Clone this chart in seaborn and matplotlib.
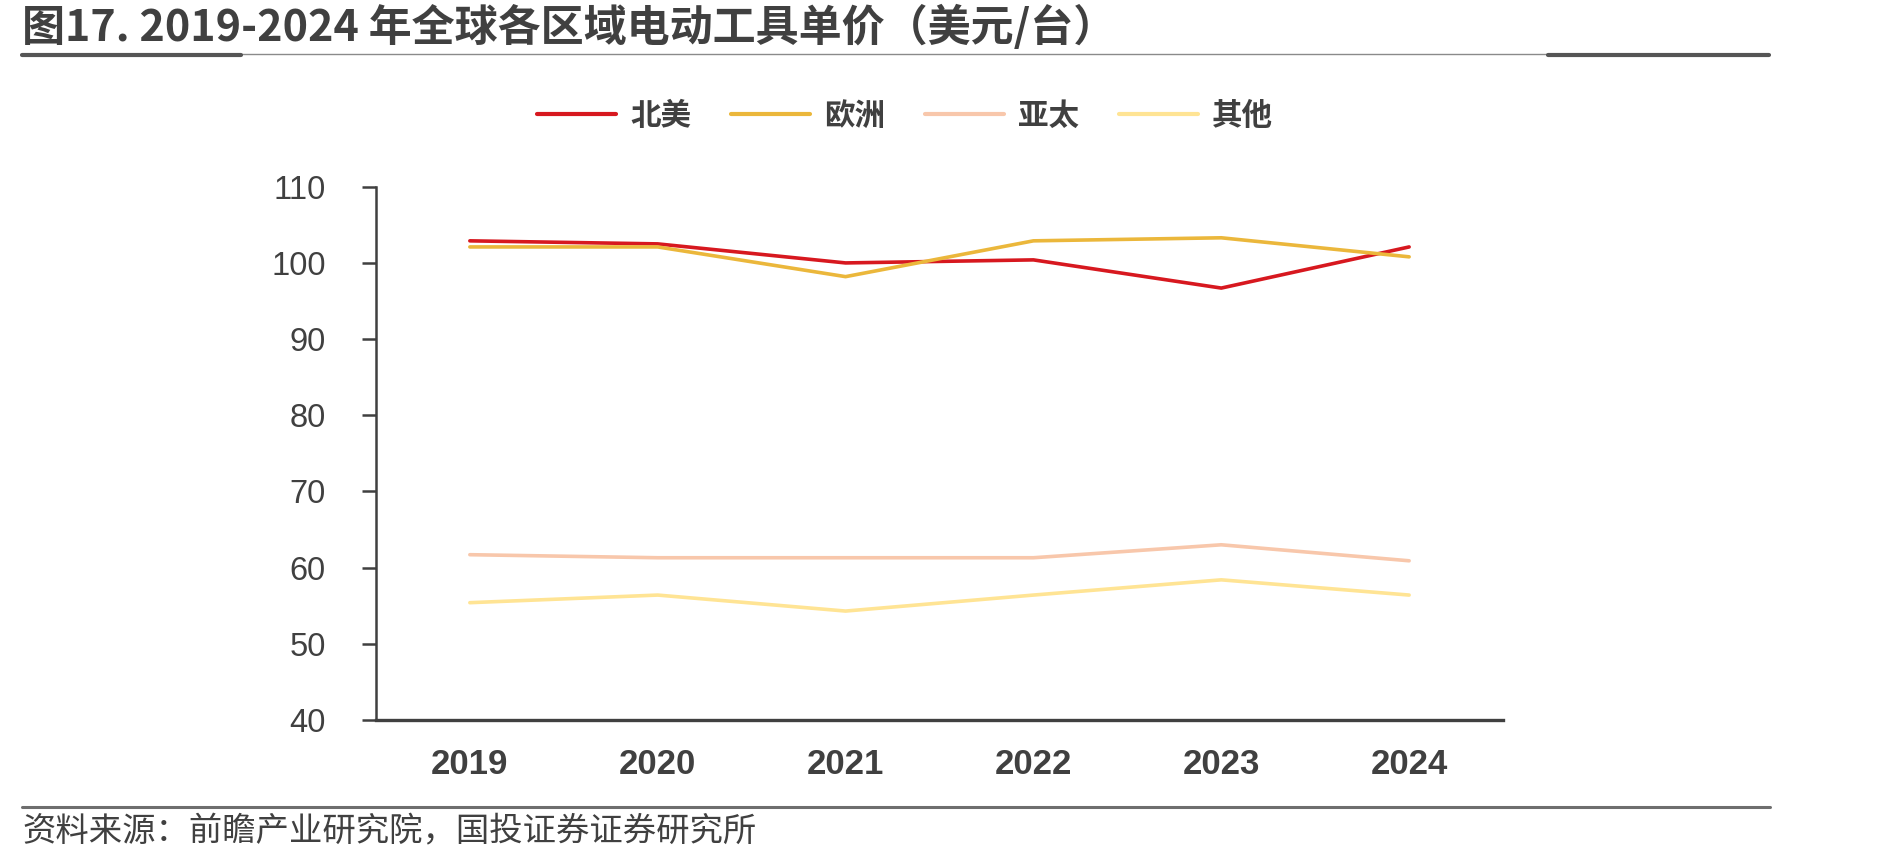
import numpy as np
import pandas as pd
import matplotlib
matplotlib.use("Agg")
import matplotlib.pyplot as plt
from matplotlib.lines import Line2D
from matplotlib import font_manager
import seaborn as sns

years = ["2019", "2020", "2021", "2022", "2023", "2024"]
north_america = [102.9, 102.5, 100.0, 100.4, 96.7, 102.1]
europe = [102.1, 102.1, 98.2, 102.9, 103.3, 100.8]
asia_pacific = [61.7, 61.3, 61.3, 61.3, 63.0, 60.9]
others = [55.4, 56.4, 54.3, 56.4, 58.4, 56.4]
series_names = ["北美", "欧洲", "亚太", "其他"]
series_colors = ["#D7181F", "#EBB73B", "#F8C7AB", "#FFE494"]
y_ticks = [40, 50, 60, 70, 80, 90, 100, 110]

title_text = "图17. 2019-2024 年全球各区域电动工具单价（美元/台）"
source_text = "资料来源：前瞻产业研究院，国投证券证券研究所"

sns.set_theme(style="white")
plt.rcParams["font.family"] = ["Liberation Sans", "Noto Sans CJK SC", "DejaVu Sans"]

available = {f.name for f in font_manager.fontManager.ttflist}
narrow = "Liberation Sans Narrow" if "Liberation Sans Narrow" in available else "Liberation Sans"

TXT = "#404040"

df = pd.DataFrame({
    "year": years * 4,
    "value": north_america + europe + asia_pacific + others,
    "region": [n for n in series_names for _ in years],
})

fig = plt.figure(figsize=(18.89, 8.63), dpi=100)
ax = fig.add_axes([0.199, 0.1657, 0.5967, 0.6179])

sns.lineplot(data=df, x="year", y="value", hue="region", hue_order=series_names,
             palette=series_colors, linewidth=2.6, ax=ax, legend=False, sort=False)

ax.set_xlim(-0.5, 5.5)
ax.set_ylim(40, 110)
ax.set_yticks(y_ticks)
ax.set_yticklabels([str(v) for v in y_ticks], fontsize=23.5, color=TXT,
                   family=["Liberation Sans"])
ax.set_xticks(range(len(years)))
ax.set_xticklabels(years, fontsize=25, color=TXT, fontweight="bold", family=[narrow])
ax.set_xticks(np.arange(-0.5, len(years), 1.0), minor=True)
ax.tick_params(axis="x", which="major", length=0, pad=20)
ax.tick_params(axis="x", which="minor", length=10, width=1.6, color=TXT, direction="out")
ax.tick_params(axis="y", which="major", length=10, width=1.8, color=TXT, direction="out", pad=26)
ax.tick_params(left=True, bottom=True)
ax.set_xlabel("")
ax.set_ylabel("")
for s in ["top", "right"]:
    ax.spines[s].set_visible(False)
ax.spines["left"].set_color(TXT)
ax.spines["left"].set_linewidth(1.8)
ax.spines["bottom"].set_color(TXT)
ax.spines["bottom"].set_linewidth(2.4)
ax.grid(False)

handles = [Line2D([0], [0], color=c, lw=3) for c in series_colors]
fig.legend(handles, series_names, ncol=4, loc="center", bbox_to_anchor=(0.479, 0.866),
           frameon=False, handlelength=2.6, handletextpad=0.45, columnspacing=1.3,
           prop={"family": ["Noto Sans CJK SC"], "size": 22, "weight": "bold"},
           labelcolor=TXT)

fig.text(0.0116, 0.9687, title_text, fontsize=31, fontweight="bold", color=TXT,
         family=["Noto Sans CJK SC", "DejaVu Sans"], ha="left", va="center")

# rule under the title
fig.add_artist(Line2D([0.0116, 0.9365], [0.9374, 0.9374], color="#8a8a8a", lw=1.0,
                      transform=fig.transFigure))
fig.add_artist(Line2D([0.0116, 0.1276], [0.9362, 0.9362], color="#555555", lw=3.0,
                      transform=fig.transFigure))
fig.add_artist(Line2D([0.8195, 0.9365], [0.9362, 0.9362], color="#555555", lw=3.0,
                      transform=fig.transFigure))

# footer rule and source
fig.add_artist(Line2D([0.0116, 0.9370], [0.0649, 0.0649], color="#6e6e6e", lw=2.2,
                      transform=fig.transFigure))
fig.text(0.0116, 0.036, source_text, fontsize=24, color=TXT, style="italic",
         family=["Noto Sans CJK SC", "DejaVu Sans"], ha="left", va="center")

fig.savefig("out.png", dpi=100, facecolor="white")
